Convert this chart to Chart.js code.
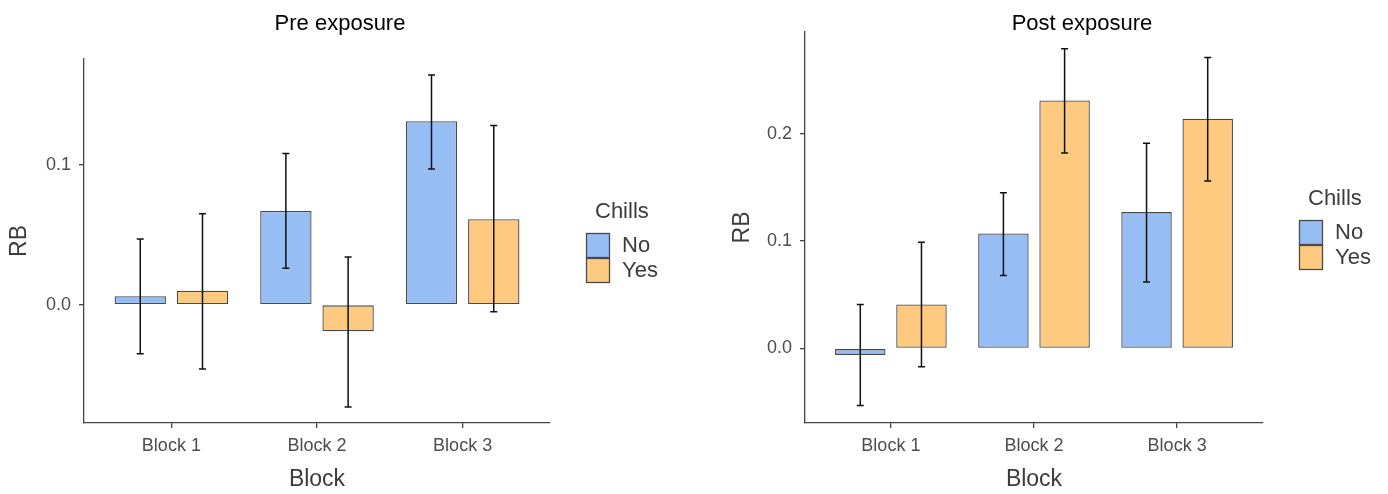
<!DOCTYPE html>
<html>
<head>
<meta charset="utf-8">
<script src="https://cdn.jsdelivr.net/npm/chart.js@4.4.1/dist/chart.umd.min.js"></script>
<style>
  body { margin: 0; background: #fff; }
  #wrap { position: relative; width: 1388px; height: 494px; }
  canvas { position: absolute; top: 0; }
</style>
</head>
<body>
<div id="wrap">
  <canvas id="pre" width="694" height="494" style="left:0"></canvas>
  <canvas id="post" width="694" height="494" style="left:694px"></canvas>
</div>
<script>
var blocks = ['Block 1', 'Block 2', 'Block 3'];
var groups = ['No', 'Yes'];

// Pre exposure: bar means and error bar ends
var preNo = [0.006, 0.067, 0.131];
var preNoLo = [-0.035, 0.026, 0.097];
var preNoHi = [0.047, 0.108, 0.164];
var preYes = [0.010, -0.019, 0.061];
var preYesLo = [-0.046, -0.073, -0.005];
var preYesHi = [0.065, 0.034, 0.128];

// Post exposure
var postNo = [-0.006, 0.107, 0.127];
var postNoLo = [-0.053, 0.068, 0.062];
var postNoHi = [0.041, 0.145, 0.191];
var postYes = [0.041, 0.231, 0.214];
var postYesLo = [-0.017, 0.182, 0.156];
var postYesHi = [0.099, 0.279, 0.271];

var preTicks = [0.0, 0.1];
var postTicks = [0.0, 0.1, 0.2];

var FONT = '"Liberation Sans", Arial, Helvetica, sans-serif';
var colNo = '#96bef5';
var colYes = '#fdca80';
var edge = '#4a4a4a';

Chart.defaults.font.family = FONT;

function points(vals) {
  return vals.map(function(v, i) { return { x: i + 1, y: v }; });
}

// error bars drawn from the dataset's lo/hi arrays
var errorBars = {
  id: 'errorBars',
  afterDatasetsDraw: function(chart) {
    var ctx = chart.ctx;
    var ys = chart.scales.y;
    ctx.save();
    ctx.strokeStyle = '#111';
    ctx.lineWidth = 1.5;
    chart.data.datasets.forEach(function(ds, i) {
      chart.getDatasetMeta(i).data.forEach(function(bar, j) {
        var x = bar.x;
        var top = ys.getPixelForValue(ds.errHi[j]);
        var bot = ys.getPixelForValue(ds.errLo[j]);
        ctx.beginPath();
        ctx.moveTo(x, top); ctx.lineTo(x, bot);
        ctx.moveTo(x - 3.5, top); ctx.lineTo(x + 3.5, top);
        ctx.moveTo(x - 3.5, bot); ctx.lineTo(x + 3.5, bot);
        ctx.stroke();
      });
    });
    ctx.restore();
  }
};

// panel title and the "Chills" legend
var panelText = {
  id: 'panelText',
  afterDraw: function(chart, args, o) {
    var ctx = chart.ctx;
    ctx.save();
    ctx.fillStyle = '#000';
    ctx.font = '22px ' + FONT;
    ctx.textAlign = 'center';
    ctx.textBaseline = 'alphabetic';
    ctx.fillText(o.title, o.titleX, 30);

    ctx.font = '22px ' + FONT;
    ctx.textAlign = 'left';
    ctx.textBaseline = 'middle';
    ctx.fillStyle = '#3c3c3c';
    ctx.fillText('Chills', o.lx + 9, o.ly);
    chart.data.datasets.forEach(function(ds, i) {
      var y = o.ly + 21 + i * 25;
      ctx.fillStyle = ds.backgroundColor;
      ctx.fillRect(o.lx, y, 24, 25);
      ctx.strokeStyle = edge;
      ctx.lineWidth = 1.3;
      ctx.strokeRect(o.lx + 0.5, y + 0.5, 23, 24);
      ctx.fillStyle = '#3c3c3c';
      ctx.fillText(ds.label, o.lx + 36, y + 13);
    });
    ctx.restore();
  }
};

function makeChart(id, no, noLo, noHi, yes, yesLo, yesHi, yMin, yMax, yTicks, cfg) {
  return new Chart(document.getElementById(id), {
    type: 'bar',
    data: {
      datasets: [
        { label: groups[0], data: points(no), errLo: noLo, errHi: noHi,
          backgroundColor: colNo, borderColor: edge, borderWidth: 1.3, borderSkipped: false },
        { label: groups[1], data: points(yes), errLo: yesLo, errHi: yesHi,
          backgroundColor: colYes, borderColor: edge, borderWidth: 1.3, borderSkipped: false }
      ]
    },
    options: {
      responsive: false,
      animation: false,
      devicePixelRatio: 1,
      categoryPercentage: 0.855,
      barPercentage: 0.825,
      layout: { padding: { left: 0, top: cfg.top, right: cfg.right, bottom: 0 } },
      plugins: {
        legend: { display: false },
        tooltip: { enabled: false },
        panelText: { title: cfg.title, titleX: cfg.titleX, lx: cfg.lx, ly: cfg.ly }
      },
      scales: {
        x: {
          type: 'linear',
          min: 0.4,
          max: 3.6,
          offset: false,
          afterBuildTicks: function(s) {
            s.ticks = blocks.map(function(b, i) { return { value: i + 1 }; });
          },
          afterFit: function(s) { s.height = 71; },
          ticks: {
            color: '#4d4d4d',
            font: { size: 18 },
            padding: 7,
            callback: function(v) { return blocks[Math.round(v) - 1]; }
          },
          grid: { offset: false, drawOnChartArea: false, drawTicks: true, tickLength: 5, color: '#444', lineWidth: 1.3 },
          border: { display: true, color: '#444', width: 1.3 },
          title: { display: true, text: 'Block', color: '#3c3c3c', font: { size: 23 }, padding: { top: 0, bottom: 1 } }
        },
        y: {
          min: yMin,
          max: yMax,
          afterBuildTicks: function(s) {
            s.ticks = yTicks.map(function(v) { return { value: v }; });
          },
          afterFit: function(s) { s.width = cfg.yWidth; },
          ticks: {
            color: '#4d4d4d',
            font: { size: 18 },
            padding: 8,
            callback: function(v) { return v.toFixed(1); }
          },
          grid: { drawOnChartArea: false, drawTicks: true, tickLength: 5, color: '#444', lineWidth: 1.3 },
          border: { display: true, color: '#444', width: 1.3 },
          title: { display: true, text: 'RB', color: '#3c3c3c', font: { size: 23 }, padding: { top: cfg.rbPad, bottom: 0 } }
        }
      }
    },
    plugins: [errorBars, panelText]
  });
}

makeChart('pre', preNo, preNoLo, preNoHi, preYes, preYesLo, preYesHi, -0.0845, 0.1755, preTicks,
  { top: 59, right: 144, yWidth: 84, rbPad: 6, title: 'Pre exposure', titleX: 340, lx: 586, ly: 212 });

makeChart('post', postNo, postNoLo, postNoHi, postYes, postYesLo, postYesHi, -0.0694, 0.2947, postTicks,
  { top: 32, right: 125, yWidth: 111, rbPad: 35, title: 'Post exposure', titleX: 388, lx: 605, ly: 199 });
</script>
</body>
</html>
